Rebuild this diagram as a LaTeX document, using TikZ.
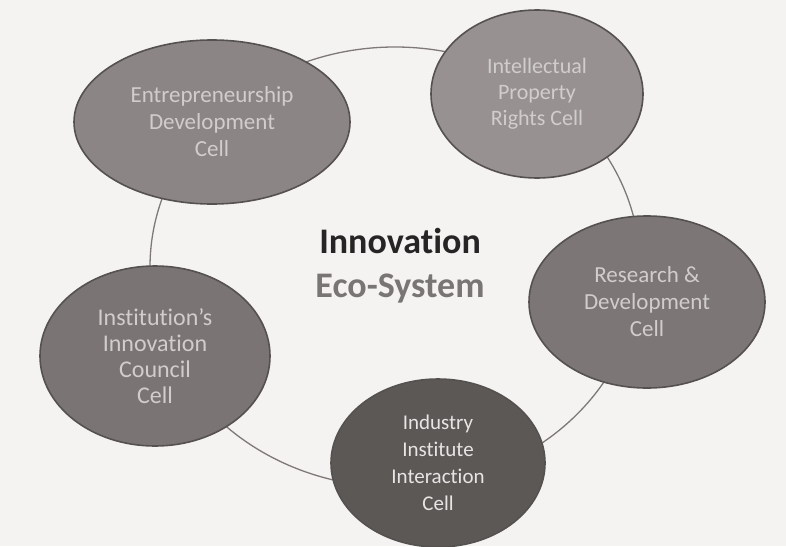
\documentclass[tikz,border=0pt]{standalone}
\usepackage{fontspec}
\setmainfont{Carlito}[Ligatures=NoCommon]
\usetikzlibrary{shapes.geometric}
\definecolor{paper}{HTML}{F4F3F2}
\definecolor{ringline}{HTML}{7E7978}
\definecolor{cellline}{HTML}{555150}
\definecolor{fillA}{HTML}{8B8685}
\definecolor{fillB}{HTML}{979291}
\definecolor{fillC}{HTML}{7C7776}
\definecolor{fillD}{HTML}{5C5856}
\definecolor{fillE}{HTML}{7A7574}
\definecolor{txtA}{HTML}{D2CDCD}
\definecolor{txtD}{HTML}{E8E5E5}
\definecolor{titleA}{HTML}{262424}
\definecolor{titleB}{HTML}{7A7575}
\begin{document}
\begin{tikzpicture}[x=1pt,y=-1pt,
  cell/.style={ellipse, draw=cellline, line width=1.6pt, inner sep=0pt, align=center,
    text=txtA, font=\fontsize{23}{27}\selectfont},
  ringstyle/.style={ellipse, draw=ringline, line width=1.3pt, inner sep=0pt}]
\fill[paper] (0,0) rectangle (786,546);
\useasboundingbox (0,0) rectangle (786,546);
\node[ringstyle, minimum width=490pt, minimum height=440pt] (ring) at (395,267) {};
\node[cell, fill=fillA, minimum width=276pt, minimum height=164pt] (edc) at (212,122)
  {Entrepreneurship\\Development\\Cell};
\node[cell, fill=fillB, font=\fontsize{22}{26}\selectfont, minimum width=212pt, minimum height=168pt] (ipr) at (537,94)
  {Intellectual\\Property\\Rights Cell};
\node[cell, fill=fillC, minimum width=236pt, minimum height=172pt] (rd) at (647,302)
  {Research \&\\Development\\Cell};
\node[cell, fill=fillD, text=txtD, font=\fontsize{21}{27}\selectfont, minimum width=214pt, minimum height=168pt] (iiic) at (438,463)
  {Industry\\Institute\\Interaction\\Cell};
\node[cell, fill=fillE, font=\fontsize{24}{26}\selectfont, minimum width=230pt, minimum height=180pt] (iic) at (155,356)
  {Institution’s\\Innovation\\Council\\Cell};
\node[font=\bfseries\fontsize{36}{44}\selectfont, align=center, inner sep=0pt] (title) at (400,266)
  {\textcolor{titleA}{Innovation}\\\textcolor{titleB}{Eco-System}};
\end{tikzpicture}
\end{document}
